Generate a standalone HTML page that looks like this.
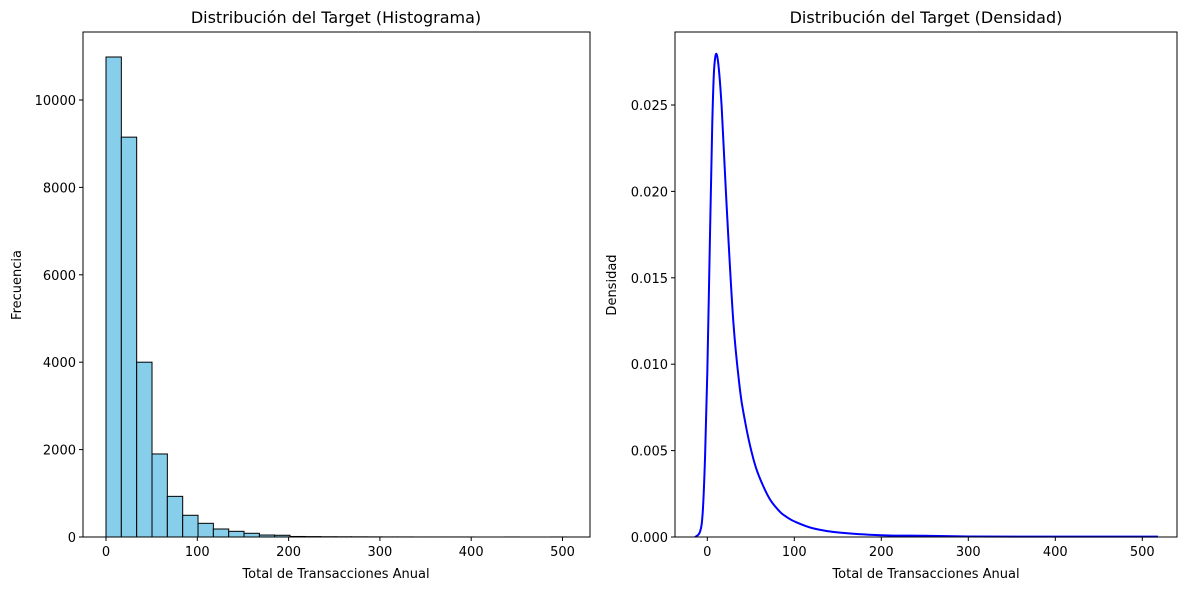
<!DOCTYPE html>
<html><head><meta charset="utf-8"><style>
body{margin:0;background:#fff;font-family:"Liberation Sans","DejaVu Sans",sans-serif}
svg text{font-family:"DejaVu Sans","Liberation Sans",sans-serif;fill:#000}
</style></head><body>
<svg id="c" width="1189" height="590" xmlns="http://www.w3.org/2000/svg"></svg>
<script>
const histBinWidth = 16.8;
const histCounts = [10984,9150,4000,1900,930,497,313,183,130,85,45,40,12,9,6,5,4,3,2,2,1,1,1,1,0,0,1,0,0,1];
const histXTicks = [0,100,200,300,400,500];
const histYTicks = [0,2000,4000,6000,8000,10000];
const densX = [-14,-8.4,-5.3,-2.6,0,3,5.7,8,11.5,16.5,22.3,30,37.6,43,49.1,56,64.7,73,83.5,90,100.6,121.8,152.5,200,250,300,400,518];
const densY = [0,0.0003,0.0014,0.0046,0.0095,0.0172,0.0239,0.0272,0.0278,0.0249,0.0191,0.0124,0.0085,0.0068,0.0053,0.0040,0.0029,0.0021,0.00146,0.0012,0.00089,0.0005,0.00025,0.0001,0.00007,0.00003,0.00002,0.00002];
const densXTicks = [0,100,200,300,400,500];
const densYTicks = [0,0.005,0.010,0.015,0.020,0.025];

const NS="http://www.w3.org/2000/svg", svg=document.getElementById('c');
function el(t,a,p){const e=document.createElementNS(NS,t);for(const k in a)e.setAttribute(k,a[k]);(p||svg).appendChild(e);return e;}
function txt(s,a){const e=el('text',a);e.textContent=s;return e;}

// left
const L={x0:83,x1:590,y0:32,y1:537};
const lx=v=>106+v*0.913, ly=v=>537-v*0.0437;
histCounts.forEach((c,i)=>{
  const r=el('rect',{x:lx(i*histBinWidth),y:ly(c),width:lx((i+1)*histBinWidth)-lx(i*histBinWidth),height:537-ly(c),fill:'#87ceeb',stroke:'#000','stroke-width':1});
  
  
});
const lf=el('rect',{x:L.x0,y:L.y0,width:L.x1-L.x0,height:L.y1-L.y0,fill:'none',stroke:'#000','stroke-width':1});

histXTicks.forEach(v=>{el('line',{x1:lx(v),x2:lx(v),y1:537,y2:541,stroke:'#000'});
  const t=txt(v,{x:lx(v),y:556,'font-size':13,'text-anchor':'middle'});});
histYTicks.forEach(v=>{el('line',{x1:79,x2:83,y1:ly(v),y2:ly(v),stroke:'#000'});
  const t=txt(v,{x:76,y:ly(v)+5,'font-size':13,'text-anchor':'end'});});
let t=txt('Distribución del Target (Histograma)',{x:336,y:23,'font-size':16,'text-anchor':'middle'});
t=txt('Total de Transacciones Anual',{x:336,y:578,'font-size':13,'text-anchor':'middle'});
t=txt('Frecuencia',{x:21,y:285,'font-size':13,'text-anchor':'middle',transform:'rotate(-90 21 285)'});

// right
const R={x0:675,x1:1177,y0:32,y1:537};
const rx=v=>707.3+v*0.87, ry=v=>537-v*17280;
const pts=densX.map((x,i)=>[rx(x),ry(densY[i])]);
let d='M'+pts[0][0]+','+pts[0][1];
for(let i=0;i<pts.length-1;i++){
  const p0=pts[Math.max(0,i-1)],p1=pts[i],p2=pts[i+1],p3=pts[Math.min(pts.length-1,i+2)];
  const k=1/6;
  d+=' C'+(p1[0]+(p2[0]-p0[0])*k)+','+Math.min(537,p1[1]+(p2[1]-p0[1])*k)+' '+(p2[0]-(p3[0]-p1[0])*k)+','+Math.min(537,p2[1]-(p3[1]-p1[1])*k)+' '+p2[0]+','+p2[1];
}
const p=el('path',{d:d,fill:'none',stroke:'#0000ff','stroke-width':2,'stroke-linejoin':'round'});

const rf=el('rect',{x:R.x0,y:R.y0,width:R.x1-R.x0,height:R.y1-R.y0,fill:'none',stroke:'#000','stroke-width':1});

densXTicks.forEach(v=>{el('line',{x1:rx(v),x2:rx(v),y1:537,y2:541,stroke:'#000'});
  const t=txt(v,{x:rx(v),y:556,'font-size':13,'text-anchor':'middle'});});
densYTicks.forEach(v=>{el('line',{x1:671,x2:675,y1:ry(v),y2:ry(v),stroke:'#000'});
  const t=txt(v.toFixed(3),{x:668,y:ry(v)+5,'font-size':13,'text-anchor':'end'});});
t=txt('Distribución del Target (Densidad)',{x:926,y:23,'font-size':16,'text-anchor':'middle'});
t=txt('Total de Transacciones Anual',{x:926,y:578,'font-size':13,'text-anchor':'middle'});
t=txt('Densidad',{x:616,y:285,'font-size':13,'text-anchor':'middle',transform:'rotate(-90 616 285)'});
</script>
</body></html>
